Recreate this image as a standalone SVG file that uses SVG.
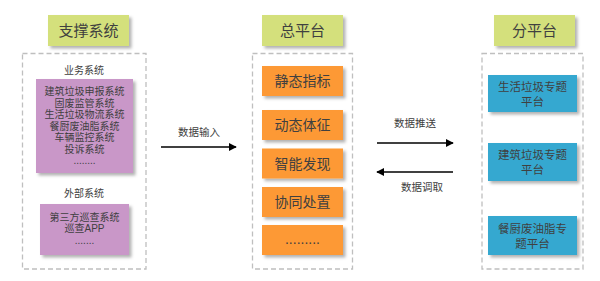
<svg xmlns="http://www.w3.org/2000/svg" width="600" height="281" viewBox="0 0 600 281">
<defs>
<filter id="sh" x="-10%" y="-10%" width="130%" height="140%">
<feDropShadow dx="2.5" dy="2.5" stdDeviation="1.5" flood-color="#000" flood-opacity="0.3"/>
</filter>
<marker id="ah" viewBox="0 0 10 10" refX="9" refY="5" markerWidth="8" markerHeight="8" markerUnits="userSpaceOnUse" orient="auto">
<path d="M0,0 L10,5 L0,10 Z" fill="#000"/>
</marker>
</defs>
<style>
text{font-family:"Liberation Sans","Noto Sans CJK SC",sans-serif;fill:#404040;text-anchor:middle;}
.title rect{fill:#d4e07c;filter:url(#sh);}
.title text{font-size:15px;}
.dash{fill:#fff;stroke:#bfbfbf;stroke-width:1.3;stroke-dasharray:5,3;}
.pur{fill:#c997c8;filter:url(#sh);}
.org{fill:#fd9934;filter:url(#sh);}
.blu{fill:#36a8d0;filter:url(#sh);}
.s{font-size:10px;}
.o{font-size:14px;}
.b{font-size:11.5px;}
.lbl{font-size:10.5px;}
.conn line{stroke:#000;stroke-width:1.5;marker-end:url(#ah);}
</style>
<rect width="600" height="281" fill="#fff"/>

<g id="title-support" class="title"><rect x="48" y="15" width="81" height="31"/><text x="88.5" y="36">支撑系统</text></g>
<g id="title-main" class="title"><rect x="262" y="15" width="81" height="31"/><text x="302.5" y="36">总平台</text></g>
<g id="title-sub" class="title"><rect x="494" y="15" width="81" height="31"/><text x="534.5" y="36">分平台</text></g>

<g id="support">
<rect class="dash" x="22.5" y="53.5" width="123.5" height="215.5"/>
<text class="s" x="84" y="73.5">业务系统</text>
<g id="biz">
<rect class="pur" x="36" y="79" width="97" height="94"/>
<text class="s" x="84.5" y="95">建筑垃圾申报系统</text>
<text class="s" x="84.5" y="106.5">固废监管系统</text>
<text class="s" x="84.5" y="118">生活垃圾物流系统</text>
<text class="s" x="84.5" y="129.5">餐厨废油脂系统</text>
<text class="s" x="84.5" y="141">车辆监控系统</text>
<text class="s" x="84.5" y="152.5">投诉系统</text>
<text class="s" x="84.5" y="164">........</text>
</g>
<text class="s" x="84" y="196.5">外部系统</text>
<g id="ext">
<rect class="pur" x="40" y="204" width="89" height="51"/>
<text class="s" x="84.5" y="221">第三方巡查系统</text>
<text class="s" x="84.5" y="231.5">巡查APP</text>
<text class="s" x="84.5" y="244">.......</text>
</g>
</g>

<g id="main">
<rect class="dash" x="252.5" y="53.5" width="100" height="215.5"/>
<g id="m1"><rect class="org" x="262" y="66" width="81" height="30"/><text class="o" x="302.5" y="86">静态指标</text></g>
<g id="m2"><rect class="org" x="262" y="110" width="81" height="30"/><text class="o" x="302.5" y="130">动态体征</text></g>
<g id="m3"><rect class="org" x="262" y="148.5" width="81" height="30"/><text class="o" x="302.5" y="168.5">智能发现</text></g>
<g id="m4"><rect class="org" x="262" y="187" width="81" height="30"/><text class="o" x="302.5" y="207">协同处置</text></g>
<g id="m5"><rect class="org" x="262" y="225" width="81" height="30"/><text class="o" x="302.5" y="244">.........</text></g>
</g>

<g id="sub">
<rect class="dash" x="482" y="53.5" width="101" height="215.5"/>
<g id="s1"><rect class="blu" x="488" y="75" width="89" height="37"/><text class="b" x="532.5" y="91">生活垃圾专题</text><text class="b" x="532.5" y="106">平台</text></g>
<g id="s2"><rect class="blu" x="488" y="143" width="89" height="38"/><text class="b" x="532.5" y="159">建筑垃圾专题</text><text class="b" x="532.5" y="174">平台</text></g>
<g id="s3"><rect class="blu" x="488" y="216" width="89" height="39"/><text class="b" x="532.5" y="233">餐厨废油脂专</text><text class="b" x="532.5" y="248">题平台</text></g>
</g>

<g id="connectors" class="conn">
<line x1="161" y1="147" x2="236" y2="147"/>
<line x1="377" y1="143" x2="453" y2="143"/>
<line x1="453" y1="172" x2="377" y2="172"/>
</g>
<g id="connector-labels">
<text class="lbl" x="199" y="136">数据输入</text>
<text class="lbl" x="415" y="127">数据推送</text>
<text class="lbl" x="422" y="191">数据调取</text>
</g>
</svg>
